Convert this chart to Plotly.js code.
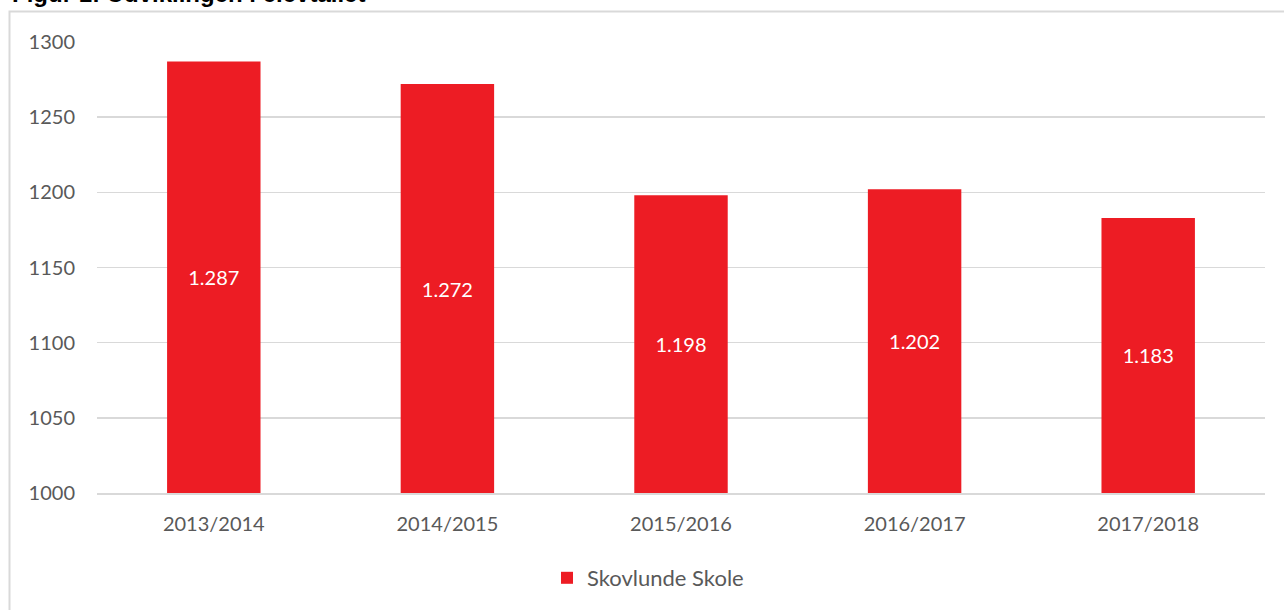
<!DOCTYPE html>
<html>
<head>
<meta charset="utf-8">
<script src="https://cdn.plot.ly/plotly-3.0.1.min.js"></script>
<style>
  html, body { margin: 0; padding: 0; background: #ffffff; overflow: hidden; }
  #chart { width: 1284px; height: 610px; }
</style>
</head>
<body>
<div id="chart"></div>
<script>
// Data
var categories = ["2013/2014", "2014/2015", "2015/2016", "2016/2017", "2017/2018"];
var values = [1287, 1272, 1198, 1202, 1183];
var seriesName = "Skovlunde Skole";
var yTicks = [1000, 1050, 1100, 1150, 1200, 1250, 1300];
var yMin = 1000, yMax = 1300;
var titleText = "Figur 1: Udviklingen i elevtallet";

// Layout geometry (pixels)
var W = 1284, H = 610;
var mL = 97, mR = 19, mT = 42, mB = 116;
var pw = W - mL - mR, ph = H - mT - mB;
function px2x(px) { return (px - mL) / pw; }
function py2y(py) { return (H - mB - py) / ph; }

// Bars start at the axis floor so the centred labels sit in the visible part
var trace = {
  type: "bar",
  x: categories,
  base: yMin,
  y: values.map(function (v) { return v - yMin; }),
  customdata: values,
  name: seriesName,
  marker: { color: "#ED1C24", line: { width: 0 } },
  width: 0.4,
  texttemplate: "%{customdata:,}",
  textposition: "inside",
  insidetextanchor: "middle",
  textangle: 0,
  textfont: { color: "#ffffff", size: 20, family: "Lato, 'Open Sans', sans-serif" },
  hoverinfo: "none",
  showlegend: true
};

var layout = {
  width: W,
  height: H,
  margin: { l: mL, r: mR, t: mT, b: mB, pad: 0 },
  paper_bgcolor: "#ffffff",
  plot_bgcolor: "#ffffff",
  separators: ",.",
  font: { family: "Lato, 'Open Sans', sans-serif", size: 20, color: "#595959" },
  xaxis: {
    type: "category",
    tickfont: { size: 20, color: "#595959" },
    ticks: "",
    showgrid: false,
    showline: true,
    linecolor: "#d9d9d9",
    linewidth: 2,
    zeroline: false,
    ticklabelstandoff: 12,
    fixedrange: true
  },
  yaxis: {
    range: [yMin, yMax],
    tickvals: yTicks,
    ticktext: yTicks.map(String),
    tickfont: { size: 20, color: "#595959" },
    ticks: "",
    showgrid: true,
    gridcolor: "#d9d9d9",
    gridwidth: 1.5,
    showline: false,
    zeroline: false,
    ticklabelstandoff: 21,
    fixedrange: true
  },
  showlegend: true,
  legend: {
    orientation: "h",
    x: px2x(547),
    xanchor: "left",
    y: py2y(578),
    yanchor: "middle",
    font: { size: 22, color: "#595959" },
    bgcolor: "rgba(0,0,0,0)"
  },
  shapes: [
    {
      type: "rect",
      xref: "paper", yref: "paper",
      x0: px2x(9.5), x1: px2x(1320),
      y0: py2y(640), y1: py2y(11.5),
      line: { color: "#d9d9d9", width: 2 },
      fillcolor: "rgba(0,0,0,0)",
      layer: "below"
    }
  ],
  annotations: [
    {
      text: "<b>" + titleText + "</b>",
      xref: "paper", yref: "paper",
      x: px2x(10), xanchor: "left",
      y: py2y(-7), yanchor: "middle",
      showarrow: false,
      font: { family: "'Liberation Sans', Arial, sans-serif", size: 24, color: "#000000" }
    }
  ]
};

Plotly.newPlot("chart", [trace], layout, { displayModeBar: false, staticPlot: true });
</script>
</body>
</html>
